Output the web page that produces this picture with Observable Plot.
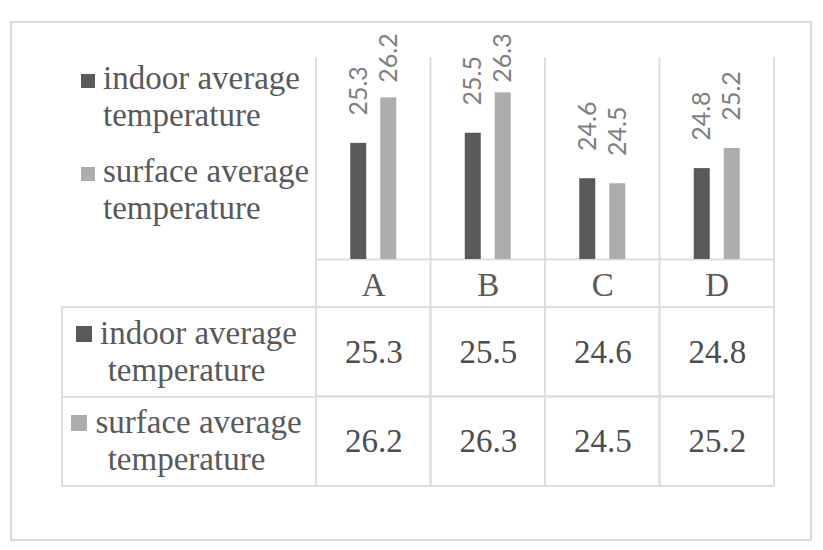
<!DOCTYPE html>
<html>
<head>
<meta charset="utf-8">
<script src="https://cdn.jsdelivr.net/npm/d3@7"></script>
<script src="https://cdn.jsdelivr.net/npm/@observablehq/plot@0.6"></script>
<style>
  body { margin: 0; background: #fff; }
  #wrap { position: relative; width: 823px; height: 550px; overflow: hidden; background: #fff;
          font-family: "Liberation Serif", "Times New Roman", serif; color: #595959; }
  #frame { position: absolute; left: 10px; top: 21px; width: 802px; height: 520px; box-sizing: border-box;
           border: 2px solid #d9d9d9; }
  .layer { position: absolute; left: 0; }
  .legend-item { position: absolute; left: 103px; font-size: 33px; line-height: 37px; white-space: nowrap; }
  .legend-item .sw { position: absolute; left: -22px; top: 14px; width: 14px; height: 14px; }
  .rowlab { position: absolute; box-sizing: border-box; border: 2px solid #dedede; border-right: none;
            display: flex; align-items: center; justify-content: center; text-align: center;
            font-size: 33px; line-height: 37px; white-space: nowrap; padding-right: 6px; }
  .rowlab .sw { display: inline-block; width: 16px; height: 16px; margin-right: 8px; margin-bottom: 2px; vertical-align: baseline; }
</style>
</head>
<body>
<div id="wrap">
  <div id="frame"></div>
  <div id="chart" class="layer" style="top:0"></div>
  <div id="table" class="layer" style="top:306px"></div>
  <div id="legend"></div>
  <div id="rowlabels"></div>
</div>
<script>
// ---- data ----
const categories = ["A", "B", "C", "D"];
const seriesNames = ["indoor average temperature", "surface average temperature"];
const seriesLines = [["indoor average", "temperature"], ["surface average", "temperature"]];
const indoorValues = [25.3, 25.5, 24.6, 24.8];
const surfaceValues = [26.2, 26.3, 24.5, 25.2];
const seriesColors = ["#5a5a5a", "#adadad"];
const yDomain = [23, 27];
const labelGap = 0.55;      // data-label offset above bar (value units)
const labelCeiling = 26.5;  // labels pushed down to stay in chart area

const seriesValues = [indoorValues, surfaceValues];
const rows = categories.flatMap((c, i) =>
  seriesNames.map((s, j) => ({cat: c, series: s, value: seriesValues[j][i]})));

const gridColor = "#dedede";
const serif = "'Liberation Serif', 'Times New Roman', serif";

// ---- chart (bars) ----
const chart = Plot.plot({
  width: 823, height: 307,
  marginTop: 57, marginBottom: 48, marginLeft: 316, marginRight: 49,
  style: {background: "transparent", overflow: "visible", fontFamily: serif, fontSize: "33px", color: "#595959"},
  fx: {domain: categories, padding: 0, round: false, axis: "bottom", label: null, tickSize: 0, tickPadding: 13},
  x: {domain: seriesNames, paddingInner: 0.4667, paddingOuter: 1.142, round: false, axis: null},
  y: {domain: yDomain, axis: null},
  color: {domain: seriesNames, range: seriesColors},
  marks: [
    Plot.ruleY([yDomain[0]], {stroke: gridColor, strokeWidth: 2}),
    Plot.barY(rows, {fx: "cat", x: "series", y1: yDomain[0], y2: "value", fill: "series"}),
    Plot.text(rows, {
      fx: "cat", x: "series",
      y: d => Math.min(d.value + labelGap, labelCeiling),
      text: d => d.value.toFixed(1),
      rotate: -90, textAnchor: "start",
      fontFamily: "Lato", fontSize: 25, fill: "#808080"
    })
  ]
});
document.getElementById("chart").appendChild(chart);

// column separators drawn from the fx scale
{
  const fx = chart.scale("fx"), y = chart.scale("y");
  const edges = categories.map(c => fx.apply(c)).concat([fx.apply(categories[categories.length - 1]) + fx.bandwidth]);
  const top = y.apply(yDomain[1]);
  d3.select(chart).insert("g", ":first-child")
    .selectAll("line").data(edges).join("line")
    .attr("x1", d => d).attr("x2", d => d)
    .attr("y1", top).attr("y2", 307)
    .attr("stroke", gridColor).attr("stroke-width", 2);
}

// ---- data table ----
const table = Plot.plot({
  width: 823, height: 182,
  marginTop: 1, marginBottom: 2, marginLeft: 316, marginRight: 49,
  style: {background: "transparent", overflow: "visible", fontFamily: serif, fontSize: "33px", color: "#595959"},
  x: {domain: categories, padding: 0, round: false, axis: null},
  y: {domain: seriesNames, padding: 0, round: false, axis: null},
  marks: [
    Plot.cell(rows, {x: "cat", y: "series", fill: "none", stroke: gridColor, strokeWidth: 2, inset: 0}),
    Plot.text(rows, {x: "cat", y: "series", text: d => d.value.toFixed(1), fill: "#4d4d4d", fontFamily: serif, fontSize: 33})
  ]
});
document.getElementById("table").appendChild(table);

// row label column (left of table), aligned with the table's y scale
{
  const yB = table.scale("y"), xB = table.scale("x");
  const holder = document.getElementById("rowlabels");
  seriesNames.forEach((s, j) => {
    const d = document.createElement("div");
    d.className = "rowlab";
    const t = 306 + yB.apply(s);
    d.style.left = "61px";
    d.style.top = (t - 1) + "px";
    d.style.width = (xB.range[0] - 61) + "px";
    d.style.height = (yB.bandwidth + 2) + "px";
    d.innerHTML = `<div><span class="sw" style="background:${seriesColors[j]}"></span>${seriesLines[j][0]}<br>${seriesLines[j][1]}</div>`;
    holder.appendChild(d);
  });
}

// ---- legend ----
{
  const holder = document.getElementById("legend");
  const tops = [60, 153];
  seriesNames.forEach((s, j) => {
    const d = document.createElement("div");
    d.className = "legend-item";
    d.style.top = tops[j] + "px";
    d.innerHTML = `<span class="sw" style="background:${seriesColors[j]}"></span>${seriesLines[j][0]}<br>${seriesLines[j][1]}`;
    holder.appendChild(d);
  });
}
</script>
</body>
</html>
